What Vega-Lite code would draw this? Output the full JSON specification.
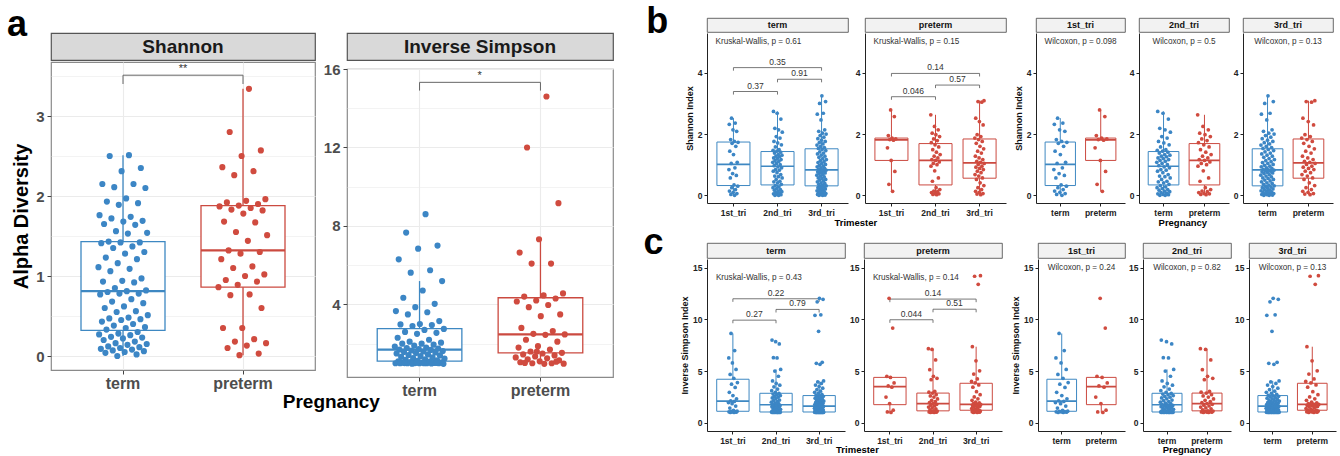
{
"$schema": "https://vega.github.io/schema/vega-lite/v6.json",
"padding": {"left": 7, "top": 3, "right": 2, "bottom": 2},
"config": {
  "font": "Liberation Sans",
  "view": {"stroke": null},
  "axis": {"labelFont": "Liberation Sans", "titleFont": "Liberation Sans", "labelFontSize": 8.5, "labelFontWeight": "bold", "labelColor": "#222", "tickSize": 3, "tickColor": "#222", "domainColor": "#222", "domainWidth": 1, "labelPadding": 2, "titleFontSize": 9, "titleFontWeight": "bold", "titleColor": "#111", "titlePadding": 3, "grid": false, "labelOverlap": false},
  "title": {"font": "Liberation Sans", "color": "#000"},
  "text": {"font": "Liberation Sans"}
},
"datasets": {
  "apts": [
    {"m":"S","g":"term","v":2.51},{"m":"S","g":"term","v":2.50},{"m":"S","g":"term","v":2.35},{"m":"S","g":"term","v":2.31},{"m":"S","g":"term","v":2.15},{"m":"S","g":"term","v":2.15},{"m":"S","g":"term","v":2.11},{"m":"S","g":"term","v":2.1},{"m":"S","g":"term","v":1.97},{"m":"S","g":"term","v":1.93},
    {"m":"S","g":"term","v":1.91},{"m":"S","g":"term","v":1.89},{"m":"S","g":"term","v":1.76},{"m":"S","g":"term","v":1.74},{"m":"S","g":"term","v":1.72},{"m":"S","g":"term","v":1.69},{"m":"S","g":"term","v":1.68},{"m":"S","g":"term","v":1.65},{"m":"S","g":"term","v":1.64},{"m":"S","g":"term","v":1.56},
    {"m":"S","g":"term","v":1.54},{"m":"S","g":"term","v":1.53},{"m":"S","g":"term","v":1.43},{"m":"S","g":"term","v":1.42},{"m":"S","g":"term","v":1.42},{"m":"S","g":"term","v":1.41},{"m":"S","g":"term","v":1.37},{"m":"S","g":"term","v":1.35},{"m":"S","g":"term","v":1.30},{"m":"S","g":"term","v":1.28},
    {"m":"S","g":"term","v":1.23},{"m":"S","g":"term","v":1.21},{"m":"S","g":"term","v":1.16},{"m":"S","g":"term","v":1.11},{"m":"S","g":"term","v":1.09},{"m":"S","g":"term","v":1.06},{"m":"S","g":"term","v":0.97},{"m":"S","g":"term","v":0.94},{"m":"S","g":"term","v":0.93},{"m":"S","g":"term","v":0.92},
    {"m":"S","g":"term","v":0.85},{"m":"S","g":"term","v":0.82},{"m":"S","g":"term","v":0.81},{"m":"S","g":"term","v":0.80},{"m":"S","g":"term","v":0.78},{"m":"S","g":"term","v":0.78},{"m":"S","g":"term","v":0.77},{"m":"S","g":"term","v":0.71},{"m":"S","g":"term","v":0.68},{"m":"S","g":"term","v":0.66},
    {"m":"S","g":"term","v":0.62},{"m":"S","g":"term","v":0.60},{"m":"S","g":"term","v":0.56},{"m":"S","g":"term","v":0.55},{"m":"S","g":"term","v":0.51},{"m":"S","g":"term","v":0.48},{"m":"S","g":"term","v":0.47},{"m":"S","g":"term","v":0.46},{"m":"S","g":"term","v":0.45},{"m":"S","g":"term","v":0.43},
    {"m":"S","g":"term","v":0.40},{"m":"S","g":"term","v":0.38},{"m":"S","g":"term","v":0.36},{"m":"S","g":"term","v":0.35},{"m":"S","g":"term","v":0.33},{"m":"S","g":"term","v":0.30},{"m":"S","g":"term","v":0.28},{"m":"S","g":"term","v":0.27},{"m":"S","g":"term","v":0.26},{"m":"S","g":"term","v":0.24},
    {"m":"S","g":"term","v":0.23},{"m":"S","g":"term","v":0.22},{"m":"S","g":"term","v":0.20},{"m":"S","g":"term","v":0.18},{"m":"S","g":"term","v":0.16},{"m":"S","g":"term","v":0.15},{"m":"S","g":"term","v":0.14},{"m":"S","g":"term","v":0.12},{"m":"S","g":"term","v":0.11},{"m":"S","g":"term","v":0.10},
    {"m":"S","g":"term","v":0.09},{"m":"S","g":"term","v":0.08},{"m":"S","g":"term","v":0.07},{"m":"S","g":"term","v":0.06},{"m":"S","g":"term","v":0.05},{"m":"S","g":"term","v":0.04},{"m":"S","g":"term","v":0.02},{"m":"S","g":"term","v":0.0},
    {"m":"S","g":"preterm","v":3.34},{"m":"S","g":"preterm","v":2.80},{"m":"S","g":"preterm","v":2.57},{"m":"S","g":"preterm","v":2.50},{"m":"S","g":"preterm","v":2.36},{"m":"S","g":"preterm","v":2.31},{"m":"S","g":"preterm","v":2.26},{"m":"S","g":"preterm","v":1.96},{"m":"S","g":"preterm","v":1.94},{"m":"S","g":"preterm","v":1.92},
    {"m":"S","g":"preterm","v":1.90},{"m":"S","g":"preterm","v":1.88},{"m":"S","g":"preterm","v":1.87},{"m":"S","g":"preterm","v":1.85},{"m":"S","g":"preterm","v":1.83},{"m":"S","g":"preterm","v":1.82},{"m":"S","g":"preterm","v":1.78},{"m":"S","g":"preterm","v":1.68},{"m":"S","g":"preterm","v":1.67},{"m":"S","g":"preterm","v":1.55},
    {"m":"S","g":"preterm","v":1.51},{"m":"S","g":"preterm","v":1.44},{"m":"S","g":"preterm","v":1.32},{"m":"S","g":"preterm","v":1.30},{"m":"S","g":"preterm","v":1.28},{"m":"S","g":"preterm","v":1.21},{"m":"S","g":"preterm","v":1.12},{"m":"S","g":"preterm","v":1.10},{"m":"S","g":"preterm","v":1.02},{"m":"S","g":"preterm","v":1.00},
    {"m":"S","g":"preterm","v":0.95},{"m":"S","g":"preterm","v":0.93},{"m":"S","g":"preterm","v":0.89},{"m":"S","g":"preterm","v":0.86},{"m":"S","g":"preterm","v":0.77},{"m":"S","g":"preterm","v":0.76},{"m":"S","g":"preterm","v":0.60},{"m":"S","g":"preterm","v":0.35},{"m":"S","g":"preterm","v":0.35},{"m":"S","g":"preterm","v":0.21},
    {"m":"S","g":"preterm","v":0.18},{"m":"S","g":"preterm","v":0.16},{"m":"S","g":"preterm","v":0.13},{"m":"S","g":"preterm","v":0.10},{"m":"S","g":"preterm","v":0.03},{"m":"S","g":"preterm","v":0.01},
    {"m":"I","g":"term","v":8.6},{"m":"I","g":"term","v":7.66},{"m":"I","g":"term","v":7.0},{"m":"I","g":"term","v":6.84},{"m":"I","g":"term","v":6.3},{"m":"I","g":"term","v":5.74},{"m":"I","g":"term","v":5.62},{"m":"I","g":"term","v":5.19},{"m":"I","g":"term","v":4.71},{"m":"I","g":"term","v":4.34},
    {"m":"I","g":"term","v":4.03},{"m":"I","g":"term","v":3.86},{"m":"I","g":"term","v":3.66},{"m":"I","g":"term","v":3.6},{"m":"I","g":"term","v":3.49},{"m":"I","g":"term","v":3.15},{"m":"I","g":"term","v":3.0},{"m":"I","g":"term","v":2.98},{"m":"I","g":"term","v":2.95},{"m":"I","g":"term","v":2.9},
    {"m":"I","g":"term","v":2.75},{"m":"I","g":"term","v":2.7},{"m":"I","g":"term","v":2.6},{"m":"I","g":"term","v":2.55},{"m":"I","g":"term","v":2.5},{"m":"I","g":"term","v":2.3},{"m":"I","g":"term","v":2.2},{"m":"I","g":"term","v":2.1},{"m":"I","g":"term","v":2.05},{"m":"I","g":"term","v":2.0},
    {"m":"I","g":"term","v":2.0},{"m":"I","g":"term","v":1.95},{"m":"I","g":"term","v":1.9},{"m":"I","g":"term","v":1.85},{"m":"I","g":"term","v":1.8},{"m":"I","g":"term","v":1.78},{"m":"I","g":"term","v":1.75},{"m":"I","g":"term","v":1.72},{"m":"I","g":"term","v":1.7},{"m":"I","g":"term","v":1.68},
    {"m":"I","g":"term","v":1.65},{"m":"I","g":"term","v":1.62},{"m":"I","g":"term","v":1.6},{"m":"I","g":"term","v":1.58},{"m":"I","g":"term","v":1.55},{"m":"I","g":"term","v":1.52},{"m":"I","g":"term","v":1.5},{"m":"I","g":"term","v":1.45},{"m":"I","g":"term","v":1.42},{"m":"I","g":"term","v":1.4},
    {"m":"I","g":"term","v":1.36},{"m":"I","g":"term","v":1.33},{"m":"I","g":"term","v":1.3},{"m":"I","g":"term","v":1.27},{"m":"I","g":"term","v":1.24},{"m":"I","g":"term","v":1.2},{"m":"I","g":"term","v":1.18},{"m":"I","g":"term","v":1.15},{"m":"I","g":"term","v":1.12},{"m":"I","g":"term","v":1.1},
    {"m":"I","g":"term","v":1.08},{"m":"I","g":"term","v":1.06},{"m":"I","g":"term","v":1.05},{"m":"I","g":"term","v":1.04},{"m":"I","g":"term","v":1.03},{"m":"I","g":"term","v":1.02},{"m":"I","g":"term","v":1.01},{"m":"I","g":"term","v":1.0},{"m":"I","g":"term","v":1.0},{"m":"I","g":"term","v":1.0},
    {"m":"I","g":"term","v":1.0},{"m":"I","g":"term","v":1.0},{"m":"I","g":"term","v":1.0},{"m":"I","g":"term","v":0.99},{"m":"I","g":"term","v":0.98},{"m":"I","g":"term","v":0.97},{"m":"I","g":"term","v":1.0},{"m":"I","g":"term","v":1.01},{"m":"I","g":"term","v":1.02},{"m":"I","g":"term","v":1.03},
    {"m":"I","g":"preterm","v":14.6},{"m":"I","g":"preterm","v":12.0},{"m":"I","g":"preterm","v":9.16},{"m":"I","g":"preterm","v":7.32},{"m":"I","g":"preterm","v":6.64},{"m":"I","g":"preterm","v":6.08},{"m":"I","g":"preterm","v":6.08},{"m":"I","g":"preterm","v":4.56},{"m":"I","g":"preterm","v":4.46},{"m":"I","g":"preterm","v":4.4},
    {"m":"I","g":"preterm","v":4.3},{"m":"I","g":"preterm","v":4.2},{"m":"I","g":"preterm","v":4.15},{"m":"I","g":"preterm","v":3.97},{"m":"I","g":"preterm","v":3.86},{"m":"I","g":"preterm","v":3.49},{"m":"I","g":"preterm","v":3.4},{"m":"I","g":"preterm","v":2.8},{"m":"I","g":"preterm","v":2.64},{"m":"I","g":"preterm","v":2.5},
    {"m":"I","g":"preterm","v":2.47},{"m":"I","g":"preterm","v":2.45},{"m":"I","g":"preterm","v":2.2},{"m":"I","g":"preterm","v":2.1},{"m":"I","g":"preterm","v":1.87},{"m":"I","g":"preterm","v":1.8},{"m":"I","g":"preterm","v":1.7},{"m":"I","g":"preterm","v":1.6},{"m":"I","g":"preterm","v":1.53},{"m":"I","g":"preterm","v":1.5},
    {"m":"I","g":"preterm","v":1.45},{"m":"I","g":"preterm","v":1.4},{"m":"I","g":"preterm","v":1.35},{"m":"I","g":"preterm","v":1.3},{"m":"I","g":"preterm","v":1.25},{"m":"I","g":"preterm","v":1.2},{"m":"I","g":"preterm","v":1.15},{"m":"I","g":"preterm","v":1.1},{"m":"I","g":"preterm","v":1.05},{"m":"I","g":"preterm","v":1.0},
    {"m":"I","g":"preterm","v":1.0},{"m":"I","g":"preterm","v":0.98},{"m":"I","g":"preterm","v":0.97},{"m":"I","g":"preterm","v":1.02},{"m":"I","g":"preterm","v":1.08},{"m":"I","g":"preterm","v":1.6}
  ],
  "astat": [
    {"m":"S","g":"term","lo":0,"q1":0.32,"md":0.81,"q3":1.43,"hi":2.51},
    {"m":"S","g":"preterm","lo":0.01,"q1":0.86,"md":1.32,"q3":1.88,"hi":3.34},
    {"m":"I","g":"term","lo":1.0,"q1":1.11,"md":1.70,"q3":2.77,"hi":5.19},
    {"m":"I","g":"preterm","lo":0.97,"q1":1.53,"md":2.47,"q3":4.34,"hi":7.32}
  ],
  "abr": [
    {"m":"S","x1":"term","x2":"preterm","y":3.51,"tip":3.40,"lab":"**"},
    {"m":"I","x1":"term","x2":"preterm","y":15.32,"tip":14.9,"lab":"*"}
  ],
  "s": [
    {"t":"1st_tri","p":"term","sh":0.0,"is":1.0},{"t":"1st_tri","p":"term","sh":0.03,"is":1.0},{"t":"1st_tri","p":"term","sh":0.06,"is":1.02},{"t":"1st_tri","p":"term","sh":0.10,"is":1.04},{"t":"1st_tri","p":"term","sh":0.14,"is":1.06},{"t":"1st_tri","p":"term","sh":0.19,"is":1.08},{"t":"1st_tri","p":"term","sh":0.25,"is":1.1},
    {"t":"1st_tri","p":"term","sh":0.30,"is":1.12},{"t":"1st_tri","p":"term","sh":0.34,"is":1.2},{"t":"1st_tri","p":"term","sh":0.57,"is":1.42},{"t":"1st_tri","p":"term","sh":0.65,"is":1.61},{"t":"1st_tri","p":"term","sh":0.71,"is":1.84},{"t":"1st_tri","p":"term","sh":0.84,"is":1.95},{"t":"1st_tri","p":"term","sh":0.90,"is":2.06},
    {"t":"1st_tri","p":"term","sh":1.04,"is":2.12},{"t":"1st_tri","p":"term","sh":1.08,"is":2.31},{"t":"1st_tri","p":"term","sh":1.33,"is":2.63},{"t":"1st_tri","p":"term","sh":1.44,"is":2.94},{"t":"1st_tri","p":"term","sh":1.60,"is":3.42},{"t":"1st_tri","p":"term","sh":1.70,"is":3.73},{"t":"1st_tri","p":"term","sh":1.73,"is":3.89},
    {"t":"1st_tri","p":"term","sh":1.76,"is":4.3},{"t":"1st_tri","p":"term","sh":1.82,"is":4.68},{"t":"1st_tri","p":"term","sh":2.09,"is":5.16},{"t":"1st_tri","p":"term","sh":2.14,"is":5.79},{"t":"1st_tri","p":"term","sh":2.32,"is":6.27},{"t":"1st_tri","p":"term","sh":2.36,"is":6.99},{"t":"1st_tri","p":"term","sh":2.52,"is":8.64},
    {"t":"2nd_tri","p":"term","sh":0,"is":1.0},{"t":"2nd_tri","p":"term","sh":0,"is":1.0},{"t":"2nd_tri","p":"term","sh":0.02,"is":1.0},{"t":"2nd_tri","p":"term","sh":0.03,"is":1.0},{"t":"2nd_tri","p":"term","sh":0.05,"is":1.0},{"t":"2nd_tri","p":"term","sh":0.07,"is":1.0},{"t":"2nd_tri","p":"term","sh":0.09,"is":1.01},{"t":"2nd_tri","p":"term","sh":0.12,"is":1.01},{"t":"2nd_tri","p":"term","sh":0.14,"is":1.02},{"t":"2nd_tri","p":"term","sh":0.17,"is":1.02},
    {"t":"2nd_tri","p":"term","sh":0.19,"is":1.03},{"t":"2nd_tri","p":"term","sh":0.22,"is":1.03},{"t":"2nd_tri","p":"term","sh":0.25,"is":1.04},{"t":"2nd_tri","p":"term","sh":0.28,"is":1.04},{"t":"2nd_tri","p":"term","sh":0.32,"is":1.04},{"t":"2nd_tri","p":"term","sh":0.36,"is":1.06},{"t":"2nd_tri","p":"term","sh":0.41,"is":1.1},{"t":"2nd_tri","p":"term","sh":0.44,"is":1.15},{"t":"2nd_tri","p":"term","sh":0.46,"is":1.2},{"t":"2nd_tri","p":"term","sh":0.52,"is":1.25},
    {"t":"2nd_tri","p":"term","sh":0.57,"is":1.3},{"t":"2nd_tri","p":"term","sh":0.61,"is":1.36},{"t":"2nd_tri","p":"term","sh":0.63,"is":1.4},{"t":"2nd_tri","p":"term","sh":0.68,"is":1.45},{"t":"2nd_tri","p":"term","sh":0.74,"is":1.5},{"t":"2nd_tri","p":"term","sh":0.79,"is":1.55},{"t":"2nd_tri","p":"term","sh":0.82,"is":1.6},{"t":"2nd_tri","p":"term","sh":0.84,"is":1.64},{"t":"2nd_tri","p":"term","sh":0.9,"is":1.68},{"t":"2nd_tri","p":"term","sh":0.93,"is":1.72},
    {"t":"2nd_tri","p":"term","sh":0.97,"is":1.76},{"t":"2nd_tri","p":"term","sh":1.0,"is":1.84},{"t":"2nd_tri","p":"term","sh":1.04,"is":1.9},{"t":"2nd_tri","p":"term","sh":1.08,"is":1.99},{"t":"2nd_tri","p":"term","sh":1.11,"is":2.05},{"t":"2nd_tri","p":"term","sh":1.14,"is":2.15},{"t":"2nd_tri","p":"term","sh":1.17,"is":2.2},{"t":"2nd_tri","p":"term","sh":1.2,"is":2.31},{"t":"2nd_tri","p":"term","sh":1.22,"is":2.4},{"t":"2nd_tri","p":"term","sh":1.26,"is":2.47},
    {"t":"2nd_tri","p":"term","sh":1.28,"is":2.55},{"t":"2nd_tri","p":"term","sh":1.31,"is":2.63},{"t":"2nd_tri","p":"term","sh":1.33,"is":2.7},{"t":"2nd_tri","p":"term","sh":1.38,"is":2.78},{"t":"2nd_tri","p":"term","sh":1.41,"is":2.84},{"t":"2nd_tri","p":"term","sh":1.44,"is":2.94},{"t":"2nd_tri","p":"term","sh":1.47,"is":3.1},{"t":"2nd_tri","p":"term","sh":1.49,"is":3.26},{"t":"2nd_tri","p":"term","sh":1.58,"is":3.48},{"t":"2nd_tri","p":"term","sh":1.65,"is":3.64},
    {"t":"2nd_tri","p":"term","sh":1.71,"is":3.8},{"t":"2nd_tri","p":"term","sh":1.76,"is":4.05},{"t":"2nd_tri","p":"term","sh":1.87,"is":4.5},{"t":"2nd_tri","p":"term","sh":1.92,"is":5.0},{"t":"2nd_tri","p":"term","sh":2.06,"is":5.16},{"t":"2nd_tri","p":"term","sh":2.14,"is":6.27},{"t":"2nd_tri","p":"term","sh":2.19,"is":6.3},{"t":"2nd_tri","p":"term","sh":2.49,"is":7.63},{"t":"2nd_tri","p":"term","sh":2.68,"is":7.85},{"t":"2nd_tri","p":"term","sh":2.74,"is":8.0},
    {"t":"3rd_tri","p":"term","sh":0,"is":1.0},{"t":"3rd_tri","p":"term","sh":0,"is":1.0},{"t":"3rd_tri","p":"term","sh":0.01,"is":1.0},{"t":"3rd_tri","p":"term","sh":0.02,"is":1.0},{"t":"3rd_tri","p":"term","sh":0.03,"is":1.0},{"t":"3rd_tri","p":"term","sh":0.04,"is":1.0},{"t":"3rd_tri","p":"term","sh":0.05,"is":1.0},
    {"t":"3rd_tri","p":"term","sh":0.06,"is":1.0},{"t":"3rd_tri","p":"term","sh":0.08,"is":1.01},{"t":"3rd_tri","p":"term","sh":0.09,"is":1.01},{"t":"3rd_tri","p":"term","sh":0.11,"is":1.01},{"t":"3rd_tri","p":"term","sh":0.13,"is":1.01},{"t":"3rd_tri","p":"term","sh":0.15,"is":1.02},{"t":"3rd_tri","p":"term","sh":0.17,"is":1.02},
    {"t":"3rd_tri","p":"term","sh":0.19,"is":1.02},{"t":"3rd_tri","p":"term","sh":0.21,"is":1.03},{"t":"3rd_tri","p":"term","sh":0.23,"is":1.03},{"t":"3rd_tri","p":"term","sh":0.25,"is":1.03},{"t":"3rd_tri","p":"term","sh":0.27,"is":1.04},{"t":"3rd_tri","p":"term","sh":0.29,"is":1.04},{"t":"3rd_tri","p":"term","sh":0.31,"is":1.04},
    {"t":"3rd_tri","p":"term","sh":0.33,"is":1.06},{"t":"3rd_tri","p":"term","sh":0.36,"is":1.08},{"t":"3rd_tri","p":"term","sh":0.39,"is":1.1},{"t":"3rd_tri","p":"term","sh":0.41,"is":1.13},{"t":"3rd_tri","p":"term","sh":0.44,"is":1.16},{"t":"3rd_tri","p":"term","sh":0.47,"is":1.19},{"t":"3rd_tri","p":"term","sh":0.5,"is":1.22},
    {"t":"3rd_tri","p":"term","sh":0.52,"is":1.25},{"t":"3rd_tri","p":"term","sh":0.55,"is":1.28},{"t":"3rd_tri","p":"term","sh":0.57,"is":1.31},{"t":"3rd_tri","p":"term","sh":0.6,"is":1.34},{"t":"3rd_tri","p":"term","sh":0.63,"is":1.37},{"t":"3rd_tri","p":"term","sh":0.66,"is":1.4},{"t":"3rd_tri","p":"term","sh":0.68,"is":1.43},
    {"t":"3rd_tri","p":"term","sh":0.71,"is":1.46},{"t":"3rd_tri","p":"term","sh":0.73,"is":1.49},{"t":"3rd_tri","p":"term","sh":0.75,"is":1.51},{"t":"3rd_tri","p":"term","sh":0.77,"is":1.53},{"t":"3rd_tri","p":"term","sh":0.79,"is":1.55},{"t":"3rd_tri","p":"term","sh":0.81,"is":1.57},{"t":"3rd_tri","p":"term","sh":0.82,"is":1.59},
    {"t":"3rd_tri","p":"term","sh":0.83,"is":1.61},
    {"t":"3rd_tri","p":"term","sh":0.85,"is":1.64},{"t":"3rd_tri","p":"term","sh":0.88,"is":1.68},{"t":"3rd_tri","p":"term","sh":0.9,"is":1.72},{"t":"3rd_tri","p":"term","sh":0.93,"is":1.76},{"t":"3rd_tri","p":"term","sh":0.95,"is":1.8},{"t":"3rd_tri","p":"term","sh":0.98,"is":1.84},{"t":"3rd_tri","p":"term","sh":1.01,"is":1.88},
    {"t":"3rd_tri","p":"term","sh":1.04,"is":1.92},{"t":"3rd_tri","p":"term","sh":1.07,"is":1.96},{"t":"3rd_tri","p":"term","sh":1.1,"is":2.0},{"t":"3rd_tri","p":"term","sh":1.13,"is":2.05},{"t":"3rd_tri","p":"term","sh":1.17,"is":2.1},{"t":"3rd_tri","p":"term","sh":1.2,"is":2.15},{"t":"3rd_tri","p":"term","sh":1.24,"is":2.2},
    {"t":"3rd_tri","p":"term","sh":1.28,"is":2.26},{"t":"3rd_tri","p":"term","sh":1.31,"is":2.32},{"t":"3rd_tri","p":"term","sh":1.35,"is":2.38},{"t":"3rd_tri","p":"term","sh":1.38,"is":2.44},{"t":"3rd_tri","p":"term","sh":1.42,"is":2.5},{"t":"3rd_tri","p":"term","sh":1.46,"is":2.56},{"t":"3rd_tri","p":"term","sh":1.5,"is":2.61},
    {"t":"3rd_tri","p":"term","sh":1.53,"is":2.66},{"t":"3rd_tri","p":"term","sh":1.56,"is":2.75},{"t":"3rd_tri","p":"term","sh":1.6,"is":2.85},{"t":"3rd_tri","p":"term","sh":1.64,"is":2.95},{"t":"3rd_tri","p":"term","sh":1.68,"is":3.05},{"t":"3rd_tri","p":"term","sh":1.72,"is":3.2},{"t":"3rd_tri","p":"term","sh":1.76,"is":3.35},
    {"t":"3rd_tri","p":"term","sh":1.8,"is":3.5},{"t":"3rd_tri","p":"term","sh":1.85,"is":3.65},{"t":"3rd_tri","p":"term","sh":1.9,"is":3.8},{"t":"3rd_tri","p":"term","sh":1.95,"is":3.95},{"t":"3rd_tri","p":"term","sh":2.0,"is":4.05},{"t":"3rd_tri","p":"term","sh":2.03,"is":5.65},{"t":"3rd_tri","p":"term","sh":2.09,"is":5.75},
    {"t":"3rd_tri","p":"term","sh":2.14,"is":5.85},{"t":"3rd_tri","p":"term","sh":2.46,"is":8.85},{"t":"3rd_tri","p":"term","sh":2.65,"is":10.4},{"t":"3rd_tri","p":"term","sh":2.68,"is":10.45},{"t":"3rd_tri","p":"term","sh":3.0,"is":11.7},{"t":"3rd_tri","p":"term","sh":3.06,"is":11.95},{"t":"3rd_tri","p":"term","sh":3.25,"is":12.05},
    {"t":"1st_tri","p":"preterm","sh":0.13,"is":1.0},{"t":"1st_tri","p":"preterm","sh":0.36,"is":1.05},{"t":"1st_tri","p":"preterm","sh":0.78,"is":1.21},{"t":"1st_tri","p":"preterm","sh":1.14,"is":1.85},{"t":"1st_tri","p":"preterm","sh":1.55,"is":2.48},{"t":"1st_tri","p":"preterm","sh":1.80,"is":3.44},
    {"t":"1st_tri","p":"preterm","sh":1.82,"is":3.56},{"t":"1st_tri","p":"preterm","sh":1.84,"is":3.85},{"t":"1st_tri","p":"preterm","sh":1.87,"is":4.39},{"t":"1st_tri","p":"preterm","sh":1.95,"is":4.49},{"t":"1st_tri","p":"preterm","sh":2.57,"is":9.17},{"t":"1st_tri","p":"preterm","sh":2.79,"is":12.04},
    {"t":"2nd_tri","p":"preterm","sh":0.02,"is":1.0},{"t":"2nd_tri","p":"preterm","sh":0.03,"is":1.0},{"t":"2nd_tri","p":"preterm","sh":0.05,"is":1.02},{"t":"2nd_tri","p":"preterm","sh":0.06,"is":1.03},{"t":"2nd_tri","p":"preterm","sh":0.09,"is":1.05},{"t":"2nd_tri","p":"preterm","sh":0.12,"is":1.08},{"t":"2nd_tri","p":"preterm","sh":0.14,"is":1.1},
    {"t":"2nd_tri","p":"preterm","sh":0.19,"is":1.13},{"t":"2nd_tri","p":"preterm","sh":0.25,"is":1.15},{"t":"2nd_tri","p":"preterm","sh":0.46,"is":1.25},{"t":"2nd_tri","p":"preterm","sh":0.57,"is":1.35},{"t":"2nd_tri","p":"preterm","sh":0.8,"is":1.43},{"t":"2nd_tri","p":"preterm","sh":0.95,"is":1.52},{"t":"2nd_tri","p":"preterm","sh":1.0,"is":1.62},
    {"t":"2nd_tri","p":"preterm","sh":1.04,"is":1.7},{"t":"2nd_tri","p":"preterm","sh":1.09,"is":1.78},{"t":"2nd_tri","p":"preterm","sh":1.14,"is":1.85},{"t":"2nd_tri","p":"preterm","sh":1.17,"is":1.94},{"t":"2nd_tri","p":"preterm","sh":1.22,"is":2.05},{"t":"2nd_tri","p":"preterm","sh":1.28,"is":2.17},{"t":"2nd_tri","p":"preterm","sh":1.33,"is":2.3},
    {"t":"2nd_tri","p":"preterm","sh":1.41,"is":2.48},{"t":"2nd_tri","p":"preterm","sh":1.49,"is":2.6},{"t":"2nd_tri","p":"preterm","sh":1.58,"is":2.71},{"t":"2nd_tri","p":"preterm","sh":1.65,"is":2.87},{"t":"2nd_tri","p":"preterm","sh":1.72,"is":2.96},{"t":"2nd_tri","p":"preterm","sh":1.79,"is":3.03},{"t":"2nd_tri","p":"preterm","sh":1.84,"is":4.17},
    {"t":"2nd_tri","p":"preterm","sh":1.92,"is":4.3},{"t":"2nd_tri","p":"preterm","sh":1.98,"is":4.49},{"t":"2nd_tri","p":"preterm","sh":2.03,"is":5.13},{"t":"2nd_tri","p":"preterm","sh":2.14,"is":6.08},{"t":"2nd_tri","p":"preterm","sh":2.25,"is":7.1},{"t":"2nd_tri","p":"preterm","sh":2.63,"is":7.17},
    {"t":"3rd_tri","p":"preterm","sh":0.02,"is":1.0},{"t":"3rd_tri","p":"preterm","sh":0.04,"is":1.0},{"t":"3rd_tri","p":"preterm","sh":0.06,"is":1.02},{"t":"3rd_tri","p":"preterm","sh":0.1,"is":1.04},{"t":"3rd_tri","p":"preterm","sh":0.13,"is":1.06},{"t":"3rd_tri","p":"preterm","sh":0.19,"is":1.08},{"t":"3rd_tri","p":"preterm","sh":0.25,"is":1.1},
    {"t":"3rd_tri","p":"preterm","sh":0.32,"is":1.13},{"t":"3rd_tri","p":"preterm","sh":0.41,"is":1.16},{"t":"3rd_tri","p":"preterm","sh":0.52,"is":1.19},{"t":"3rd_tri","p":"preterm","sh":0.57,"is":1.23},{"t":"3rd_tri","p":"preterm","sh":0.63,"is":1.3},{"t":"3rd_tri","p":"preterm","sh":0.68,"is":1.37},{"t":"3rd_tri","p":"preterm","sh":0.74,"is":1.45},
    {"t":"3rd_tri","p":"preterm","sh":0.79,"is":1.52},{"t":"3rd_tri","p":"preterm","sh":0.84,"is":1.58},{"t":"3rd_tri","p":"preterm","sh":0.88,"is":1.63},{"t":"3rd_tri","p":"preterm","sh":0.92,"is":1.67},{"t":"3rd_tri","p":"preterm","sh":0.95,"is":1.7},{"t":"3rd_tri","p":"preterm","sh":1.01,"is":1.74},{"t":"3rd_tri","p":"preterm","sh":1.04,"is":1.77},
    {"t":"3rd_tri","p":"preterm","sh":1.08,"is":1.8},{"t":"3rd_tri","p":"preterm","sh":1.11,"is":1.85},{"t":"3rd_tri","p":"preterm","sh":1.17,"is":1.92},{"t":"3rd_tri","p":"preterm","sh":1.22,"is":2.0},{"t":"3rd_tri","p":"preterm","sh":1.28,"is":2.17},{"t":"3rd_tri","p":"preterm","sh":1.38,"is":2.32},{"t":"3rd_tri","p":"preterm","sh":1.44,"is":2.5},
    {"t":"3rd_tri","p":"preterm","sh":1.52,"is":2.71},{"t":"3rd_tri","p":"preterm","sh":1.6,"is":3.0},{"t":"3rd_tri","p":"preterm","sh":1.7,"is":3.44},{"t":"3rd_tri","p":"preterm","sh":1.76,"is":3.66},{"t":"3rd_tri","p":"preterm","sh":1.82,"is":3.85},{"t":"3rd_tri","p":"preterm","sh":1.87,"is":4.0},{"t":"3rd_tri","p":"preterm","sh":1.92,"is":4.24},
    {"t":"3rd_tri","p":"preterm","sh":1.98,"is":4.71},{"t":"3rd_tri","p":"preterm","sh":2.3,"is":5.03},{"t":"3rd_tri","p":"preterm","sh":2.41,"is":5.99},{"t":"3rd_tri","p":"preterm","sh":2.52,"is":7.36},{"t":"3rd_tri","p":"preterm","sh":3.04,"is":13.4},{"t":"3rd_tri","p":"preterm","sh":3.06,"is":14.18},{"t":"3rd_tri","p":"preterm","sh":3.09,"is":14.24}
  ],
  "ss": [
    {"t":"1st_tri","p":"term","m":"sh","lo":0,"q1":0.32,"md":1.01,"q3":1.74,"hi":2.52},
    {"t":"2nd_tri","p":"term","m":"sh","lo":0,"q1":0.34,"md":0.95,"q3":1.43,"hi":2.74},
    {"t":"3rd_tri","p":"term","m":"sh","lo":0,"q1":0.31,"md":0.83,"q3":1.52,"hi":3.25},
    {"t":"1st_tri","p":"preterm","m":"sh","lo":0.13,"q1":1.14,"md":1.81,"q3":1.87,"hi":2.79},
    {"t":"2nd_tri","p":"preterm","m":"sh","lo":0.02,"q1":0.34,"md":1.14,"q3":1.69,"hi":2.63},
    {"t":"3rd_tri","p":"preterm","m":"sh","lo":0.02,"q1":0.56,"md":1.06,"q3":1.84,"hi":3.09},
    {"t":"1st_tri","p":"term","m":"is","lo":1.0,"q1":1.11,"md":2.09,"q3":4.21,"hi":8.64},
    {"t":"2nd_tri","p":"term","m":"is","lo":1.0,"q1":1.04,"md":1.74,"q3":2.85,"hi":5.16},
    {"t":"3rd_tri","p":"term","m":"is","lo":1.0,"q1":1.04,"md":1.61,"q3":2.63,"hi":4.05},
    {"t":"1st_tri","p":"preterm","m":"is","lo":1.0,"q1":1.75,"md":3.5,"q3":4.39,"hi":4.49},
    {"t":"2nd_tri","p":"preterm","m":"is","lo":1.0,"q1":1.15,"md":1.85,"q3":2.87,"hi":7.17},
    {"t":"3rd_tri","p":"preterm","m":"is","lo":1.0,"q1":1.21,"md":1.78,"q3":3.82,"hi":7.36}
  ],
  "br": [
    {"p":"term","m":"sh","x1":"1st_tri","x2":"3rd_tri","mid":"2nd_tri","y":4.17,"tip":4.07,"lab":"0.35","span":2},
    {"p":"term","m":"sh","x1":"2nd_tri","x2":"3rd_tri","y":3.79,"tip":3.69,"lab":"0.91","span":1},
    {"p":"term","m":"sh","x1":"1st_tri","x2":"2nd_tri","y":3.39,"tip":3.29,"lab":"0.37","span":1},
    {"p":"preterm","m":"sh","x1":"1st_tri","x2":"3rd_tri","mid":"2nd_tri","y":3.98,"tip":3.88,"lab":"0.14","span":2},
    {"p":"preterm","m":"sh","x1":"2nd_tri","x2":"3rd_tri","y":3.60,"tip":3.50,"lab":"0.57","span":1},
    {"p":"preterm","m":"sh","x1":"1st_tri","x2":"2nd_tri","y":3.22,"tip":3.12,"lab":"0.046","span":1},
    {"p":"term","m":"is","x1":"1st_tri","x2":"3rd_tri","mid":"2nd_tri","y":12.0,"tip":11.7,"lab":"0.22","span":2},
    {"p":"term","m":"is","x1":"2nd_tri","x2":"3rd_tri","y":10.97,"tip":10.67,"lab":"0.79","span":1},
    {"p":"term","m":"is","x1":"1st_tri","x2":"2nd_tri","y":9.93,"tip":9.63,"lab":"0.27","span":1},
    {"p":"preterm","m":"is","x1":"1st_tri","x2":"3rd_tri","mid":"2nd_tri","y":11.97,"tip":11.67,"lab":"0.14","span":2},
    {"p":"preterm","m":"is","x1":"2nd_tri","x2":"3rd_tri","y":10.99,"tip":10.69,"lab":"0.51","span":1},
    {"p":"preterm","m":"is","x1":"1st_tri","x2":"2nd_tri","y":9.97,"tip":9.67,"lab":"0.044","span":1}
  ],
  "kw": [
    {"p":"term","m":"sh","t":"1st_tri","y":5,"lab":"Kruskal-Wallis, p = 0.61"},
    {"p":"preterm","m":"sh","t":"1st_tri","y":5,"lab":"Kruskal-Wallis, p = 0.15"},
    {"p":"term","m":"is","t":"1st_tri","y":14,"lab":"Kruskal-Wallis, p = 0.43"},
    {"p":"preterm","m":"is","t":"1st_tri","y":14,"lab":"Kruskal-Wallis, p = 0.14"}
  ],
  "wx": [
    {"t":"1st_tri","m":"sh","y":5,"lab":"Wilcoxon, p = 0.098"},
    {"t":"2nd_tri","m":"sh","y":5,"lab":"Wilcoxon, p = 0.5"},
    {"t":"3rd_tri","m":"sh","y":5,"lab":"Wilcoxon, p = 0.13"},
    {"t":"1st_tri","m":"is","y":15,"lab":"Wilcoxon, p = 0.24"},
    {"t":"2nd_tri","m":"is","y":15,"lab":"Wilcoxon, p = 0.82"},
    {"t":"3rd_tri","m":"is","y":15,"lab":"Wilcoxon, p = 0.13"}
  ]
},
"spacing": 29,
"hconcat": [
 {"spacing": 0,
  "title": {"text": "a", "orient": "top", "anchor": "start", "frame": "bounds", "fontSize": 36, "fontWeight": "bold", "baseline": "alphabetic", "offset": 0, "dx": -4, "dy": 54},
  "vconcat": [
   {"width": 10, "height": 14, "data": {"values": [{"s": ""}]}, "mark": {"type": "text"}, "encoding": {"text": {"field": "s", "type": "nominal"}}},
   {"spacing": 6,
    "title": {"text": "Pregnancy", "orient": "bottom", "anchor": "middle", "frame": "bounds", "fontSize": 19, "fontWeight": "bold", "offset": -6, "dx": 19},
    "hconcat": [
     {"spacing": 0, "vconcat": [
      {"width": 264, "height": 27, "data": {"values": [{"s": "Shannon"}]}, "mark": {"type": "text", "fontSize": 19, "fontWeight": "bold", "color": "#1a1a1a"}, "encoding": {"text": {"field": "s", "type": "nominal"}}, "view": {"fill": "#d9d9d9", "stroke": "#555", "strokeWidth": 1.2}},
      {"width": 264, "height": 308, "view": {"stroke": "#8a8a8a", "strokeWidth": 1.2},
       "resolve": {"scale": {"x": "independent"}},
       "layer": [
        {"layer": [
        {"data": {"name": "astat"}, "transform": [{"filter": "datum.m === 'S'"}], "mark": {"type": "rule", "strokeWidth": 1.3},
         "encoding": {
          "x": {"field": "g", "type": "nominal", "title": null, "scale": {"domain": ["term","preterm"], "paddingInner": 0.3, "paddingOuter": 0.25}, "axis": {"labelAngle": 0, "grid": true, "gridColor": "#ebebeb", "gridWidth": 1.1, "domain": false, "tickColor": "#444", "tickSize": 4, "labelFontSize": 16, "labelColor": "#4d4d4d", "labelFontWeight": "bold", "labelPadding": 1}},
          "y": {"field": "lo", "type": "quantitative", "title": "Alpha Diversity", "scale": {"domain": [-0.175, 3.675], "nice": false, "zero": false}, "axis": {"values": [0,0.5,1,1.5,2,2.5,3,3.5], "labelExpr": "datum.value % 1 === 0 ? format(datum.value, 'd') : ''", "grid": true, "gridColor": "#ebebeb", "gridWidth": {"condition": {"test": "datum.value % 1 !== 0", "value": 0.6}, "value": 1.1}, "tickOpacity": {"condition": {"test": "datum.value % 1 !== 0", "value": 0}, "value": 1}, "domain": false, "tickColor": "#444", "tickSize": 4, "labelFontSize": 15, "labelColor": "#4d4d4d", "labelFontWeight": "bold", "labelPadding": 3, "titleFontSize": 20, "titleColor": "#000", "titleFontWeight": "bold", "titlePadding": 4}},
          "y2": {"field": "hi"},
          "stroke": {"field": "g", "type": "nominal", "scale": {"domain": ["term","preterm"], "range": ["#3E88C2","#CB4A40"]}, "legend": null}}},
        {"data": {"name": "astat"}, "transform": [{"filter": "datum.m === 'S'"}], "mark": {"type": "bar", "fill": "white", "strokeWidth": 1.3},
         "encoding": {"x": {"field": "g", "type": "nominal", "title": null}, "y": {"field": "q1", "type": "quantitative"}, "y2": {"field": "q3"}, "stroke": {"field": "g", "type": "nominal", "legend": null}}},
        {"data": {"name": "astat"}, "transform": [{"filter": "datum.m === 'S'"}], "mark": {"type": "bar", "fill": "white", "strokeWidth": 2.2},
         "encoding": {"x": {"field": "g", "type": "nominal", "title": null}, "y": {"field": "md", "type": "quantitative"}, "y2": {"field": "md"}, "stroke": {"field": "g", "type": "nominal", "legend": null}}},
        {"data": {"name": "abr"}, "transform": [{"filter": "datum.m === 'S'"}], "mark": {"type": "rule", "color": "#666", "strokeWidth": 1},
         "encoding": {"x": {"field": "x1", "type": "nominal", "title": null}, "x2": {"field": "x2"}, "y": {"field": "y", "type": "quantitative"}}},
        {"data": {"name": "abr"}, "transform": [{"filter": "datum.m === 'S'"}, {"fold": ["x1","x2"], "as": ["k","xe"]}], "mark": {"type": "rule", "color": "#666", "strokeWidth": 1},
         "encoding": {"x": {"field": "xe", "type": "nominal", "title": null}, "y": {"field": "y", "type": "quantitative"}, "y2": {"field": "tip"}}},
        {"data": {"name": "abr"}, "transform": [{"filter": "datum.m === 'S'"}], "mark": {"type": "text", "fontSize": 11, "color": "#333", "baseline": "bottom", "dy": -1, "dx": 60},
         "encoding": {"x": {"field": "x1", "type": "nominal", "title": null}, "y": {"field": "y", "type": "quantitative"}, "text": {"field": "lab", "type": "nominal"}}}
        ]},
        {"data": {"name": "apts"}, "transform": [{"filter": "datum.m === 'S'"}, {"window": [{"op": "row_number", "as": "rn"}], "groupby": ["g"]}, {"calculate": "indexof(['term','preterm'], datum.g) + 1 + 0.21 * (((datum.rn * 0.618034) % 1) * 2 - 1)", "as": "xj"}],
         "mark": {"type": "circle", "size": 38, "opacity": 1},
         "encoding": {"x": {"field": "xj", "type": "quantitative", "scale": {"domain": [0.4, 2.6], "nice": false, "zero": false}, "axis": null}, "y": {"field": "v", "type": "quantitative"}, "color": {"field": "g", "type": "nominal", "scale": {"domain": ["term","preterm"], "range": ["#3C86C5","#D04B3F"]}, "legend": null}}}
       ]}
     ]},
     {"spacing": 0, "vconcat": [
      {"width": 266, "height": 27, "data": {"values": [{"s": "Inverse Simpson"}]}, "mark": {"type": "text", "fontSize": 19, "fontWeight": "bold", "color": "#1a1a1a"}, "encoding": {"text": {"field": "s", "type": "nominal"}}, "view": {"fill": "#d9d9d9", "stroke": "#555", "strokeWidth": 1.2}},
      {"width": 266, "height": 308, "view": {"stroke": "#8a8a8a", "strokeWidth": 1.2},
       "resolve": {"scale": {"x": "independent"}},
       "layer": [
        {"layer": [
        {"data": {"name": "astat"}, "transform": [{"filter": "datum.m === 'I'"}], "mark": {"type": "rule", "strokeWidth": 1.3},
         "encoding": {
          "x": {"field": "g", "type": "nominal", "title": null, "scale": {"domain": ["term","preterm"], "paddingInner": 0.3, "paddingOuter": 0.25}, "axis": {"labelAngle": 0, "grid": true, "gridColor": "#ebebeb", "gridWidth": 1.1, "domain": false, "tickColor": "#444", "tickSize": 4, "labelFontSize": 16, "labelColor": "#4d4d4d", "labelFontWeight": "bold", "labelPadding": 1}},
          "y": {"field": "lo", "type": "quantitative", "title": null, "scale": {"domain": [0.3, 16.0], "nice": false, "zero": false}, "axis": {"values": [2,4,6,8,10,12,14,16], "labelExpr": "datum.value % 4 === 0 ? format(datum.value, 'd') : ''", "grid": true, "gridColor": "#ebebeb", "gridWidth": {"condition": {"test": "datum.value % 4 !== 0", "value": 0.6}, "value": 1.1}, "tickOpacity": {"condition": {"test": "datum.value % 4 !== 0", "value": 0}, "value": 1}, "domain": false, "tickColor": "#444", "tickSize": 4, "labelFontSize": 15, "labelColor": "#4d4d4d", "labelFontWeight": "bold", "labelPadding": 3}},
          "y2": {"field": "hi"},
          "stroke": {"field": "g", "type": "nominal", "scale": {"domain": ["term","preterm"], "range": ["#3E88C2","#CB4A40"]}, "legend": null}}},
        {"data": {"name": "astat"}, "transform": [{"filter": "datum.m === 'I'"}], "mark": {"type": "bar", "fill": "white", "strokeWidth": 1.3},
         "encoding": {"x": {"field": "g", "type": "nominal", "title": null}, "y": {"field": "q1", "type": "quantitative"}, "y2": {"field": "q3"}, "stroke": {"field": "g", "type": "nominal", "legend": null}}},
        {"data": {"name": "astat"}, "transform": [{"filter": "datum.m === 'I'"}], "mark": {"type": "bar", "fill": "white", "strokeWidth": 2.2},
         "encoding": {"x": {"field": "g", "type": "nominal", "title": null}, "y": {"field": "md", "type": "quantitative"}, "y2": {"field": "md"}, "stroke": {"field": "g", "type": "nominal", "legend": null}}},
        {"data": {"name": "abr"}, "transform": [{"filter": "datum.m === 'I'"}], "mark": {"type": "rule", "color": "#666", "strokeWidth": 1},
         "encoding": {"x": {"field": "x1", "type": "nominal", "title": null}, "x2": {"field": "x2"}, "y": {"field": "y", "type": "quantitative"}}},
        {"data": {"name": "abr"}, "transform": [{"filter": "datum.m === 'I'"}, {"fold": ["x1","x2"], "as": ["k","xe"]}], "mark": {"type": "rule", "color": "#666", "strokeWidth": 1},
         "encoding": {"x": {"field": "xe", "type": "nominal", "title": null}, "y": {"field": "y", "type": "quantitative"}, "y2": {"field": "tip"}}},
        {"data": {"name": "abr"}, "transform": [{"filter": "datum.m === 'I'"}], "mark": {"type": "text", "fontSize": 11, "color": "#333", "baseline": "bottom", "dy": -1, "dx": 60},
         "encoding": {"x": {"field": "x1", "type": "nominal", "title": null}, "y": {"field": "y", "type": "quantitative"}, "text": {"field": "lab", "type": "nominal"}}}
        ]},
        {"data": {"name": "apts"}, "transform": [{"filter": "datum.m === 'I'"}, {"window": [{"op": "row_number", "as": "rn"}], "groupby": ["g"]}, {"calculate": "indexof(['term','preterm'], datum.g) + 1 + 0.21 * (((datum.rn * 0.618034) % 1) * 2 - 1)", "as": "xj"}],
         "mark": {"type": "circle", "size": 38, "opacity": 1},
         "encoding": {"x": {"field": "xj", "type": "quantitative", "scale": {"domain": [0.4, 2.6], "nice": false, "zero": false}, "axis": null}, "y": {"field": "v", "type": "quantitative"}, "color": {"field": "g", "type": "nominal", "scale": {"domain": ["term","preterm"], "range": ["#3C86C5","#D04B3F"]}, "legend": null}}}
       ]}
     ]}
    ]}
  ]},
 {"spacing": -3, "vconcat": [
  {"spacing": 7,
   "title": {"text": "b", "orient": "top", "anchor": "start", "frame": "bounds", "fontSize": 36, "fontWeight": "bold", "baseline": "alphabetic", "offset": 0, "dx": -39, "dy": 51},
   "hconcat": [
    {"spacing": 6,
     "title": {"text": "Trimester", "orient": "bottom", "anchor": "middle", "frame": "bounds", "fontSize": 9.5, "fontWeight": "bold", "offset": 1, "dx": 10},
     "hconcat": [
      {"spacing": 0, "vconcat": [
       {"width": 141, "height": 14, "data": {"values": [{"s": "term"}]}, "mark": {"type": "text", "fontSize": 9, "fontWeight": "bold", "color": "#111"}, "encoding": {"text": {"field": "s", "type": "nominal"}}, "view": {"fill": "#f2f2f2", "stroke": "#444", "strokeWidth": 0.8}},
       {"width": 141, "height": 170, "resolve": {"scale": {"x": "independent"}}, "layer": [
        {"layer": [
        {"data": {"name": "ss"}, "transform": [{"filter": "datum.p === 'term' && datum.m === 'sh'"}], "mark": {"type": "rule", "strokeWidth": 1},
         "encoding": {"x": {"field": "t", "type": "nominal", "title": null, "scale": {"domain": ["1st_tri","2nd_tri","3rd_tri"], "paddingInner": 0.25, "paddingOuter": 0.225}, "axis": {"labelAngle": 0}},
          "y": {"field": "lo", "type": "quantitative", "title": "Shannon Index", "scale": {"domain": [-0.25, 5.3], "nice": false, "zero": false}, "axis": {"values": [0,1,2,3,4,5], "format": "d"}},
          "y2": {"field": "hi"},
          "stroke": {"field": "p", "type": "nominal", "scale": {"domain": ["term","preterm"], "range": ["#78B4DF","#EE8F87"]}, "legend": null}}},
        {"data": {"name": "ss"}, "transform": [{"filter": "datum.p === 'term' && datum.m === 'sh'"}], "mark": {"type": "bar", "fill": "white", "strokeWidth": 1},
         "encoding": {"x": {"field": "t", "type": "nominal", "title": null}, "y": {"field": "q1", "type": "quantitative"}, "y2": {"field": "q3"}, "stroke": {"field": "p", "type": "nominal", "legend": null}}},
        {"data": {"name": "ss"}, "transform": [{"filter": "datum.p === 'term' && datum.m === 'sh'"}], "mark": {"type": "bar", "fill": "white", "strokeWidth": 1.6},
         "encoding": {"x": {"field": "t", "type": "nominal", "title": null}, "y": {"field": "md", "type": "quantitative"}, "y2": {"field": "md"}, "stroke": {"field": "p", "type": "nominal", "legend": null}}},
        {"data": {"name": "br"}, "transform": [{"filter": "datum.p === 'term' && datum.m === 'sh'"}], "mark": {"type": "rule", "color": "#555", "strokeWidth": 0.8},
         "encoding": {"x": {"field": "x1", "type": "nominal", "title": null}, "x2": {"field": "x2"}, "y": {"field": "y", "type": "quantitative"}}},
        {"data": {"name": "br"}, "transform": [{"filter": "datum.p === 'term' && datum.m === 'sh'"}, {"fold": ["x1","x2"], "as": ["k","xe"]}], "mark": {"type": "rule", "color": "#555", "strokeWidth": 0.8},
         "encoding": {"x": {"field": "xe", "type": "nominal", "title": null}, "y": {"field": "y", "type": "quantitative"}, "y2": {"field": "tip"}}},
        {"data": {"name": "br"}, "transform": [{"filter": "datum.p === 'term' && datum.m === 'sh' && datum.span === 1"}], "mark": {"type": "text", "fontSize": 8.5, "color": "#333", "baseline": "bottom", "dy": -1, "dx": 22},
         "encoding": {"x": {"field": "x1", "type": "nominal", "title": null}, "y": {"field": "y", "type": "quantitative"}, "text": {"field": "lab", "type": "nominal"}}},
        {"data": {"name": "br"}, "transform": [{"filter": "datum.p === 'term' && datum.m === 'sh' && datum.span === 2"}], "mark": {"type": "text", "fontSize": 8.5, "color": "#333", "baseline": "bottom", "dy": -1},
         "encoding": {"x": {"field": "mid", "type": "nominal", "title": null}, "y": {"field": "y", "type": "quantitative"}, "text": {"field": "lab", "type": "nominal"}}},
        {"data": {"name": "kw"}, "transform": [{"filter": "datum.p === 'term' && datum.m === 'sh'"}], "mark": {"type": "text", "fontSize": 8.2, "color": "#333", "align": "left", "dx": -18},
         "encoding": {"x": {"field": "t", "type": "nominal", "title": null}, "y": {"field": "y", "type": "quantitative"}, "text": {"field": "lab", "type": "nominal"}}}
        ]},
        {"data": {"name": "s"}, "transform": [{"filter": "datum.p === 'term'"}, {"window": [{"op": "row_number", "as": "rn"}], "groupby": ["t"]}, {"calculate": "indexof(['1st_tri','2nd_tri','3rd_tri'], datum.t) + 1 + 0.11 * (((datum.rn * 0.618034) % 1) * 2 - 1)", "as": "xj"}],
         "mark": {"type": "circle", "size": 14, "opacity": 1},
         "encoding": {"x": {"field": "xj", "type": "quantitative", "scale": {"domain": [0.4, 3.6], "nice": false, "zero": false}, "axis": null}, "y": {"field": "sh", "type": "quantitative"}, "color": {"field": "p", "type": "nominal", "scale": {"domain": ["term","preterm"], "range": ["#3B8CC7","#D9534A"]}, "legend": null}}}
       ]}
      ]},
      {"spacing": 0, "vconcat": [
       {"width": 141, "height": 14, "data": {"values": [{"s": "preterm"}]}, "mark": {"type": "text", "fontSize": 9, "fontWeight": "bold", "color": "#111"}, "encoding": {"text": {"field": "s", "type": "nominal"}}, "view": {"fill": "#f2f2f2", "stroke": "#444", "strokeWidth": 0.8}},
       {"width": 141, "height": 170, "resolve": {"scale": {"x": "independent"}}, "layer": [
        {"layer": [
        {"data": {"name": "ss"}, "transform": [{"filter": "datum.p === 'preterm' && datum.m === 'sh'"}], "mark": {"type": "rule", "strokeWidth": 1},
         "encoding": {"x": {"field": "t", "type": "nominal", "title": null, "scale": {"domain": ["1st_tri","2nd_tri","3rd_tri"], "paddingInner": 0.25, "paddingOuter": 0.225}, "axis": {"labelAngle": 0}},
          "y": {"field": "lo", "type": "quantitative", "title": null, "scale": {"domain": [-0.25, 5.3], "nice": false, "zero": false}, "axis": {"values": [0,1,2,3,4,5], "format": "d"}},
          "y2": {"field": "hi"},
          "stroke": {"field": "p", "type": "nominal", "scale": {"domain": ["term","preterm"], "range": ["#78B4DF","#EE8F87"]}, "legend": null}}},
        {"data": {"name": "ss"}, "transform": [{"filter": "datum.p === 'preterm' && datum.m === 'sh'"}], "mark": {"type": "bar", "fill": "white", "strokeWidth": 1},
         "encoding": {"x": {"field": "t", "type": "nominal", "title": null}, "y": {"field": "q1", "type": "quantitative"}, "y2": {"field": "q3"}, "stroke": {"field": "p", "type": "nominal", "legend": null}}},
        {"data": {"name": "ss"}, "transform": [{"filter": "datum.p === 'preterm' && datum.m === 'sh'"}], "mark": {"type": "bar", "fill": "white", "strokeWidth": 1.6},
         "encoding": {"x": {"field": "t", "type": "nominal", "title": null}, "y": {"field": "md", "type": "quantitative"}, "y2": {"field": "md"}, "stroke": {"field": "p", "type": "nominal", "legend": null}}},
        {"data": {"name": "br"}, "transform": [{"filter": "datum.p === 'preterm' && datum.m === 'sh'"}], "mark": {"type": "rule", "color": "#555", "strokeWidth": 0.8},
         "encoding": {"x": {"field": "x1", "type": "nominal", "title": null}, "x2": {"field": "x2"}, "y": {"field": "y", "type": "quantitative"}}},
        {"data": {"name": "br"}, "transform": [{"filter": "datum.p === 'preterm' && datum.m === 'sh'"}, {"fold": ["x1","x2"], "as": ["k","xe"]}], "mark": {"type": "rule", "color": "#555", "strokeWidth": 0.8},
         "encoding": {"x": {"field": "xe", "type": "nominal", "title": null}, "y": {"field": "y", "type": "quantitative"}, "y2": {"field": "tip"}}},
        {"data": {"name": "br"}, "transform": [{"filter": "datum.p === 'preterm' && datum.m === 'sh' && datum.span === 1"}], "mark": {"type": "text", "fontSize": 8.5, "color": "#333", "baseline": "bottom", "dy": -1, "dx": 22},
         "encoding": {"x": {"field": "x1", "type": "nominal", "title": null}, "y": {"field": "y", "type": "quantitative"}, "text": {"field": "lab", "type": "nominal"}}},
        {"data": {"name": "br"}, "transform": [{"filter": "datum.p === 'preterm' && datum.m === 'sh' && datum.span === 2"}], "mark": {"type": "text", "fontSize": 8.5, "color": "#333", "baseline": "bottom", "dy": -1},
         "encoding": {"x": {"field": "mid", "type": "nominal", "title": null}, "y": {"field": "y", "type": "quantitative"}, "text": {"field": "lab", "type": "nominal"}}},
        {"data": {"name": "kw"}, "transform": [{"filter": "datum.p === 'preterm' && datum.m === 'sh'"}], "mark": {"type": "text", "fontSize": 8.2, "color": "#333", "align": "left", "dx": -18},
         "encoding": {"x": {"field": "t", "type": "nominal", "title": null}, "y": {"field": "y", "type": "quantitative"}, "text": {"field": "lab", "type": "nominal"}}}
        ]},
        {"data": {"name": "s"}, "transform": [{"filter": "datum.p === 'preterm'"}, {"window": [{"op": "row_number", "as": "rn"}], "groupby": ["t"]}, {"calculate": "indexof(['1st_tri','2nd_tri','3rd_tri'], datum.t) + 1 + 0.11 * (((datum.rn * 0.618034) % 1) * 2 - 1)", "as": "xj"}],
         "mark": {"type": "circle", "size": 14, "opacity": 1},
         "encoding": {"x": {"field": "xj", "type": "quantitative", "scale": {"domain": [0.4, 3.6], "nice": false, "zero": false}, "axis": null}, "y": {"field": "sh", "type": "quantitative"}, "color": {"field": "p", "type": "nominal", "scale": {"domain": ["term","preterm"], "range": ["#3B8CC7","#D9534A"]}, "legend": null}}}
       ]}
      ]}
     ]},
    {"spacing": 3,
     "title": {"text": "Pregnancy", "orient": "bottom", "anchor": "middle", "frame": "bounds", "fontSize": 9.5, "fontWeight": "bold", "offset": 1, "dx": 9},
     "hconcat": [
      {"spacing": 0, "vconcat": [
       {"width": 89, "height": 14, "data": {"values": [{"s": "1st_tri"}]}, "mark": {"type": "text", "fontSize": 9, "fontWeight": "bold", "color": "#111"}, "encoding": {"text": {"field": "s", "type": "nominal"}}, "view": {"fill": "#f2f2f2", "stroke": "#444", "strokeWidth": 0.8}},
       {"width": 89, "height": 170, "resolve": {"scale": {"x": "independent"}}, "layer": [
        {"layer": [
        {"data": {"name": "ss"}, "transform": [{"filter": "datum.t === '1st_tri' && datum.m === 'sh'"}], "mark": {"type": "rule", "strokeWidth": 1},
         "encoding": {"x": {"field": "p", "type": "nominal", "title": null, "scale": {"domain": ["term","preterm"], "paddingInner": 0.25, "paddingOuter": 0.225}, "axis": {"labelAngle": 0}},
          "y": {"field": "lo", "type": "quantitative", "title": "Shannon Index", "scale": {"domain": [-0.25, 5.3], "nice": false, "zero": false}, "axis": {"values": [0,1,2,3,4,5], "format": "d"}},
          "y2": {"field": "hi"},
          "stroke": {"field": "p", "type": "nominal", "scale": {"domain": ["term","preterm"], "range": ["#78B4DF","#EE8F87"]}, "legend": null}}},
        {"data": {"name": "ss"}, "transform": [{"filter": "datum.t === '1st_tri' && datum.m === 'sh'"}], "mark": {"type": "bar", "fill": "white", "strokeWidth": 1},
         "encoding": {"x": {"field": "p", "type": "nominal", "title": null}, "y": {"field": "q1", "type": "quantitative"}, "y2": {"field": "q3"}, "stroke": {"field": "p", "type": "nominal", "legend": null}}},
        {"data": {"name": "ss"}, "transform": [{"filter": "datum.t === '1st_tri' && datum.m === 'sh'"}], "mark": {"type": "bar", "fill": "white", "strokeWidth": 1.6},
         "encoding": {"x": {"field": "p", "type": "nominal", "title": null}, "y": {"field": "md", "type": "quantitative"}, "y2": {"field": "md"}, "stroke": {"field": "p", "type": "nominal", "legend": null}}},
        {"data": {"name": "wx"}, "transform": [{"filter": "datum.t === '1st_tri' && datum.m === 'sh'"}], "mark": {"type": "text", "fontSize": 8.2, "color": "#333"},
         "encoding": {"y": {"field": "y", "type": "quantitative"}, "text": {"field": "lab", "type": "nominal"}}}
        ]},
        {"data": {"name": "s"}, "transform": [{"filter": "datum.t === '1st_tri'"}, {"window": [{"op": "row_number", "as": "rn"}], "groupby": ["p"]}, {"calculate": "indexof(['term','preterm'], datum.p) + 1 + 0.17 * (((datum.rn * 0.618034) % 1) * 2 - 1)", "as": "xj"}],
         "mark": {"type": "circle", "size": 14, "opacity": 1},
         "encoding": {"x": {"field": "xj", "type": "quantitative", "scale": {"domain": [0.4, 2.6], "nice": false, "zero": false}, "axis": null}, "y": {"field": "sh", "type": "quantitative"}, "color": {"field": "p", "type": "nominal", "scale": {"domain": ["term","preterm"], "range": ["#3B8CC7","#D9534A"]}, "legend": null}}}
       ]}
      ]},
      {"spacing": 0, "vconcat": [
       {"width": 90, "height": 14, "data": {"values": [{"s": "2nd_tri"}]}, "mark": {"type": "text", "fontSize": 9, "fontWeight": "bold", "color": "#111"}, "encoding": {"text": {"field": "s", "type": "nominal"}}, "view": {"fill": "#f2f2f2", "stroke": "#444", "strokeWidth": 0.8}},
       {"width": 90, "height": 170, "resolve": {"scale": {"x": "independent"}}, "layer": [
        {"layer": [
        {"data": {"name": "ss"}, "transform": [{"filter": "datum.t === '2nd_tri' && datum.m === 'sh'"}], "mark": {"type": "rule", "strokeWidth": 1},
         "encoding": {"x": {"field": "p", "type": "nominal", "title": null, "scale": {"domain": ["term","preterm"], "paddingInner": 0.25, "paddingOuter": 0.225}, "axis": {"labelAngle": 0}},
          "y": {"field": "lo", "type": "quantitative", "title": null, "scale": {"domain": [-0.25, 5.3], "nice": false, "zero": false}, "axis": {"values": [0,1,2,3,4,5], "format": "d"}},
          "y2": {"field": "hi"},
          "stroke": {"field": "p", "type": "nominal", "scale": {"domain": ["term","preterm"], "range": ["#78B4DF","#EE8F87"]}, "legend": null}}},
        {"data": {"name": "ss"}, "transform": [{"filter": "datum.t === '2nd_tri' && datum.m === 'sh'"}], "mark": {"type": "bar", "fill": "white", "strokeWidth": 1},
         "encoding": {"x": {"field": "p", "type": "nominal", "title": null}, "y": {"field": "q1", "type": "quantitative"}, "y2": {"field": "q3"}, "stroke": {"field": "p", "type": "nominal", "legend": null}}},
        {"data": {"name": "ss"}, "transform": [{"filter": "datum.t === '2nd_tri' && datum.m === 'sh'"}], "mark": {"type": "bar", "fill": "white", "strokeWidth": 1.6},
         "encoding": {"x": {"field": "p", "type": "nominal", "title": null}, "y": {"field": "md", "type": "quantitative"}, "y2": {"field": "md"}, "stroke": {"field": "p", "type": "nominal", "legend": null}}},
        {"data": {"name": "wx"}, "transform": [{"filter": "datum.t === '2nd_tri' && datum.m === 'sh'"}], "mark": {"type": "text", "fontSize": 8.2, "color": "#333"},
         "encoding": {"y": {"field": "y", "type": "quantitative"}, "text": {"field": "lab", "type": "nominal"}}}
        ]},
        {"data": {"name": "s"}, "transform": [{"filter": "datum.t === '2nd_tri'"}, {"window": [{"op": "row_number", "as": "rn"}], "groupby": ["p"]}, {"calculate": "indexof(['term','preterm'], datum.p) + 1 + 0.17 * (((datum.rn * 0.618034) % 1) * 2 - 1)", "as": "xj"}],
         "mark": {"type": "circle", "size": 14, "opacity": 1},
         "encoding": {"x": {"field": "xj", "type": "quantitative", "scale": {"domain": [0.4, 2.6], "nice": false, "zero": false}, "axis": null}, "y": {"field": "sh", "type": "quantitative"}, "color": {"field": "p", "type": "nominal", "scale": {"domain": ["term","preterm"], "range": ["#3B8CC7","#D9534A"]}, "legend": null}}}
       ]}
      ]},
      {"spacing": 0, "vconcat": [
       {"width": 90, "height": 14, "data": {"values": [{"s": "3rd_tri"}]}, "mark": {"type": "text", "fontSize": 9, "fontWeight": "bold", "color": "#111"}, "encoding": {"text": {"field": "s", "type": "nominal"}}, "view": {"fill": "#f2f2f2", "stroke": "#444", "strokeWidth": 0.8}},
       {"width": 90, "height": 170, "resolve": {"scale": {"x": "independent"}}, "layer": [
        {"layer": [
        {"data": {"name": "ss"}, "transform": [{"filter": "datum.t === '3rd_tri' && datum.m === 'sh'"}], "mark": {"type": "rule", "strokeWidth": 1},
         "encoding": {"x": {"field": "p", "type": "nominal", "title": null, "scale": {"domain": ["term","preterm"], "paddingInner": 0.25, "paddingOuter": 0.225}, "axis": {"labelAngle": 0}},
          "y": {"field": "lo", "type": "quantitative", "title": null, "scale": {"domain": [-0.25, 5.3], "nice": false, "zero": false}, "axis": {"values": [0,1,2,3,4,5], "format": "d"}},
          "y2": {"field": "hi"},
          "stroke": {"field": "p", "type": "nominal", "scale": {"domain": ["term","preterm"], "range": ["#78B4DF","#EE8F87"]}, "legend": null}}},
        {"data": {"name": "ss"}, "transform": [{"filter": "datum.t === '3rd_tri' && datum.m === 'sh'"}], "mark": {"type": "bar", "fill": "white", "strokeWidth": 1},
         "encoding": {"x": {"field": "p", "type": "nominal", "title": null}, "y": {"field": "q1", "type": "quantitative"}, "y2": {"field": "q3"}, "stroke": {"field": "p", "type": "nominal", "legend": null}}},
        {"data": {"name": "ss"}, "transform": [{"filter": "datum.t === '3rd_tri' && datum.m === 'sh'"}], "mark": {"type": "bar", "fill": "white", "strokeWidth": 1.6},
         "encoding": {"x": {"field": "p", "type": "nominal", "title": null}, "y": {"field": "md", "type": "quantitative"}, "y2": {"field": "md"}, "stroke": {"field": "p", "type": "nominal", "legend": null}}},
        {"data": {"name": "wx"}, "transform": [{"filter": "datum.t === '3rd_tri' && datum.m === 'sh'"}], "mark": {"type": "text", "fontSize": 8.2, "color": "#333"},
         "encoding": {"y": {"field": "y", "type": "quantitative"}, "text": {"field": "lab", "type": "nominal"}}}
        ]},
        {"data": {"name": "s"}, "transform": [{"filter": "datum.t === '3rd_tri'"}, {"window": [{"op": "row_number", "as": "rn"}], "groupby": ["p"]}, {"calculate": "indexof(['term','preterm'], datum.p) + 1 + 0.17 * (((datum.rn * 0.618034) % 1) * 2 - 1)", "as": "xj"}],
         "mark": {"type": "circle", "size": 14, "opacity": 1},
         "encoding": {"x": {"field": "xj", "type": "quantitative", "scale": {"domain": [0.4, 2.6], "nice": false, "zero": false}, "axis": null}, "y": {"field": "sh", "type": "quantitative"}, "color": {"field": "p", "type": "nominal", "scale": {"domain": ["term","preterm"], "range": ["#3B8CC7","#D9534A"]}, "legend": null}}}
       ]}
      ]}
     ]}
   ]},
  {"spacing": 8,
   "title": {"text": "c", "orient": "top", "anchor": "start", "frame": "bounds", "fontSize": 36, "fontWeight": "bold", "baseline": "alphabetic", "offset": 0, "dx": -37, "dy": 47},
   "hconcat": [
    {"spacing": 3,
     "title": {"text": "Trimester", "orient": "bottom", "anchor": "middle", "frame": "bounds", "fontSize": 9.5, "fontWeight": "bold", "offset": 0, "dx": 16},
     "hconcat": [
      {"spacing": 0, "vconcat": [
       {"width": 138, "height": 15, "data": {"values": [{"s": "term"}]}, "mark": {"type": "text", "fontSize": 9, "fontWeight": "bold", "color": "#111"}, "encoding": {"text": {"field": "s", "type": "nominal"}}, "view": {"fill": "#f2f2f2", "stroke": "#444", "strokeWidth": 0.8}},
       {"width": 138, "height": 172, "resolve": {"scale": {"x": "independent"}}, "layer": [
        {"layer": [
        {"data": {"name": "ss"}, "transform": [{"filter": "datum.p === 'term' && datum.m === 'is'"}], "mark": {"type": "rule", "strokeWidth": 1},
         "encoding": {"x": {"field": "t", "type": "nominal", "title": null, "scale": {"domain": ["1st_tri","2nd_tri","3rd_tri"], "paddingInner": 0.25, "paddingOuter": 0.225}, "axis": {"labelAngle": 0}},
          "y": {"field": "lo", "type": "quantitative", "title": "Inverse Simpson Index", "scale": {"domain": [-0.8, 15.85], "nice": false, "zero": false}, "axis": {"values": [0,5,10,15], "format": "d"}},
          "y2": {"field": "hi"},
          "stroke": {"field": "p", "type": "nominal", "scale": {"domain": ["term","preterm"], "range": ["#78B4DF","#EE8F87"]}, "legend": null}}},
        {"data": {"name": "ss"}, "transform": [{"filter": "datum.p === 'term' && datum.m === 'is'"}], "mark": {"type": "bar", "fill": "white", "strokeWidth": 1},
         "encoding": {"x": {"field": "t", "type": "nominal", "title": null}, "y": {"field": "q1", "type": "quantitative"}, "y2": {"field": "q3"}, "stroke": {"field": "p", "type": "nominal", "legend": null}}},
        {"data": {"name": "ss"}, "transform": [{"filter": "datum.p === 'term' && datum.m === 'is'"}], "mark": {"type": "bar", "fill": "white", "strokeWidth": 1.6},
         "encoding": {"x": {"field": "t", "type": "nominal", "title": null}, "y": {"field": "md", "type": "quantitative"}, "y2": {"field": "md"}, "stroke": {"field": "p", "type": "nominal", "legend": null}}},
        {"data": {"name": "br"}, "transform": [{"filter": "datum.p === 'term' && datum.m === 'is'"}], "mark": {"type": "rule", "color": "#555", "strokeWidth": 0.8},
         "encoding": {"x": {"field": "x1", "type": "nominal", "title": null}, "x2": {"field": "x2"}, "y": {"field": "y", "type": "quantitative"}}},
        {"data": {"name": "br"}, "transform": [{"filter": "datum.p === 'term' && datum.m === 'is'"}, {"fold": ["x1","x2"], "as": ["k","xe"]}], "mark": {"type": "rule", "color": "#555", "strokeWidth": 0.8},
         "encoding": {"x": {"field": "xe", "type": "nominal", "title": null}, "y": {"field": "y", "type": "quantitative"}, "y2": {"field": "tip"}}},
        {"data": {"name": "br"}, "transform": [{"filter": "datum.p === 'term' && datum.m === 'is' && datum.span === 1"}], "mark": {"type": "text", "fontSize": 8.5, "color": "#333", "baseline": "bottom", "dy": -1, "dx": 21.5},
         "encoding": {"x": {"field": "x1", "type": "nominal", "title": null}, "y": {"field": "y", "type": "quantitative"}, "text": {"field": "lab", "type": "nominal"}}},
        {"data": {"name": "br"}, "transform": [{"filter": "datum.p === 'term' && datum.m === 'is' && datum.span === 2"}], "mark": {"type": "text", "fontSize": 8.5, "color": "#333", "baseline": "bottom", "dy": -1},
         "encoding": {"x": {"field": "mid", "type": "nominal", "title": null}, "y": {"field": "y", "type": "quantitative"}, "text": {"field": "lab", "type": "nominal"}}},
        {"data": {"name": "kw"}, "transform": [{"filter": "datum.p === 'term' && datum.m === 'is'"}], "mark": {"type": "text", "fontSize": 8.2, "color": "#333", "align": "left", "dx": -17},
         "encoding": {"x": {"field": "t", "type": "nominal", "title": null}, "y": {"field": "y", "type": "quantitative"}, "text": {"field": "lab", "type": "nominal"}}}
        ]},
        {"data": {"name": "s"}, "transform": [{"filter": "datum.p === 'term'"}, {"window": [{"op": "row_number", "as": "rn"}], "groupby": ["t"]}, {"calculate": "indexof(['1st_tri','2nd_tri','3rd_tri'], datum.t) + 1 + 0.11 * (((datum.rn * 0.618034) % 1) * 2 - 1)", "as": "xj"}],
         "mark": {"type": "circle", "size": 14, "opacity": 1},
         "encoding": {"x": {"field": "xj", "type": "quantitative", "scale": {"domain": [0.4, 3.6], "nice": false, "zero": false}, "axis": null}, "y": {"field": "is", "type": "quantitative"}, "color": {"field": "p", "type": "nominal", "scale": {"domain": ["term","preterm"], "range": ["#3B8CC7","#D9534A"]}, "legend": null}}}
       ]}
      ]},
      {"spacing": 0, "vconcat": [
       {"width": 138, "height": 15, "data": {"values": [{"s": "preterm"}]}, "mark": {"type": "text", "fontSize": 9, "fontWeight": "bold", "color": "#111"}, "encoding": {"text": {"field": "s", "type": "nominal"}}, "view": {"fill": "#f2f2f2", "stroke": "#444", "strokeWidth": 0.8}},
       {"width": 138, "height": 172, "resolve": {"scale": {"x": "independent"}}, "layer": [
        {"layer": [
        {"data": {"name": "ss"}, "transform": [{"filter": "datum.p === 'preterm' && datum.m === 'is'"}], "mark": {"type": "rule", "strokeWidth": 1},
         "encoding": {"x": {"field": "t", "type": "nominal", "title": null, "scale": {"domain": ["1st_tri","2nd_tri","3rd_tri"], "paddingInner": 0.25, "paddingOuter": 0.225}, "axis": {"labelAngle": 0}},
          "y": {"field": "lo", "type": "quantitative", "title": null, "scale": {"domain": [-0.8, 15.85], "nice": false, "zero": false}, "axis": {"values": [0,5,10,15], "format": "d"}},
          "y2": {"field": "hi"},
          "stroke": {"field": "p", "type": "nominal", "scale": {"domain": ["term","preterm"], "range": ["#78B4DF","#EE8F87"]}, "legend": null}}},
        {"data": {"name": "ss"}, "transform": [{"filter": "datum.p === 'preterm' && datum.m === 'is'"}], "mark": {"type": "bar", "fill": "white", "strokeWidth": 1},
         "encoding": {"x": {"field": "t", "type": "nominal", "title": null}, "y": {"field": "q1", "type": "quantitative"}, "y2": {"field": "q3"}, "stroke": {"field": "p", "type": "nominal", "legend": null}}},
        {"data": {"name": "ss"}, "transform": [{"filter": "datum.p === 'preterm' && datum.m === 'is'"}], "mark": {"type": "bar", "fill": "white", "strokeWidth": 1.6},
         "encoding": {"x": {"field": "t", "type": "nominal", "title": null}, "y": {"field": "md", "type": "quantitative"}, "y2": {"field": "md"}, "stroke": {"field": "p", "type": "nominal", "legend": null}}},
        {"data": {"name": "br"}, "transform": [{"filter": "datum.p === 'preterm' && datum.m === 'is'"}], "mark": {"type": "rule", "color": "#555", "strokeWidth": 0.8},
         "encoding": {"x": {"field": "x1", "type": "nominal", "title": null}, "x2": {"field": "x2"}, "y": {"field": "y", "type": "quantitative"}}},
        {"data": {"name": "br"}, "transform": [{"filter": "datum.p === 'preterm' && datum.m === 'is'"}, {"fold": ["x1","x2"], "as": ["k","xe"]}], "mark": {"type": "rule", "color": "#555", "strokeWidth": 0.8},
         "encoding": {"x": {"field": "xe", "type": "nominal", "title": null}, "y": {"field": "y", "type": "quantitative"}, "y2": {"field": "tip"}}},
        {"data": {"name": "br"}, "transform": [{"filter": "datum.p === 'preterm' && datum.m === 'is' && datum.span === 1"}], "mark": {"type": "text", "fontSize": 8.5, "color": "#333", "baseline": "bottom", "dy": -1, "dx": 21.5},
         "encoding": {"x": {"field": "x1", "type": "nominal", "title": null}, "y": {"field": "y", "type": "quantitative"}, "text": {"field": "lab", "type": "nominal"}}},
        {"data": {"name": "br"}, "transform": [{"filter": "datum.p === 'preterm' && datum.m === 'is' && datum.span === 2"}], "mark": {"type": "text", "fontSize": 8.5, "color": "#333", "baseline": "bottom", "dy": -1},
         "encoding": {"x": {"field": "mid", "type": "nominal", "title": null}, "y": {"field": "y", "type": "quantitative"}, "text": {"field": "lab", "type": "nominal"}}},
        {"data": {"name": "kw"}, "transform": [{"filter": "datum.p === 'preterm' && datum.m === 'is'"}], "mark": {"type": "text", "fontSize": 8.2, "color": "#333", "align": "left", "dx": -17},
         "encoding": {"x": {"field": "t", "type": "nominal", "title": null}, "y": {"field": "y", "type": "quantitative"}, "text": {"field": "lab", "type": "nominal"}}}
        ]},
        {"data": {"name": "s"}, "transform": [{"filter": "datum.p === 'preterm'"}, {"window": [{"op": "row_number", "as": "rn"}], "groupby": ["t"]}, {"calculate": "indexof(['1st_tri','2nd_tri','3rd_tri'], datum.t) + 1 + 0.11 * (((datum.rn * 0.618034) % 1) * 2 - 1)", "as": "xj"}],
         "mark": {"type": "circle", "size": 14, "opacity": 1},
         "encoding": {"x": {"field": "xj", "type": "quantitative", "scale": {"domain": [0.4, 3.6], "nice": false, "zero": false}, "axis": null}, "y": {"field": "is", "type": "quantitative"}, "color": {"field": "p", "type": "nominal", "scale": {"domain": ["term","preterm"], "range": ["#3B8CC7","#D9534A"]}, "legend": null}}}
       ]}
      ]}
     ]},
    {"spacing": 2,
     "title": {"text": "Pregnancy", "orient": "bottom", "anchor": "middle", "frame": "bounds", "fontSize": 9.5, "fontWeight": "bold", "offset": 0, "dx": 13},
     "hconcat": [
      {"spacing": 0, "vconcat": [
       {"width": 87, "height": 15, "data": {"values": [{"s": "1st_tri"}]}, "mark": {"type": "text", "fontSize": 9, "fontWeight": "bold", "color": "#111"}, "encoding": {"text": {"field": "s", "type": "nominal"}}, "view": {"fill": "#f2f2f2", "stroke": "#444", "strokeWidth": 0.8}},
       {"width": 87, "height": 172, "resolve": {"scale": {"x": "independent"}}, "layer": [
        {"layer": [
        {"data": {"name": "ss"}, "transform": [{"filter": "datum.t === '1st_tri' && datum.m === 'is'"}], "mark": {"type": "rule", "strokeWidth": 1},
         "encoding": {"x": {"field": "p", "type": "nominal", "title": null, "scale": {"domain": ["term","preterm"], "paddingInner": 0.25, "paddingOuter": 0.225}, "axis": {"labelAngle": 0}},
          "y": {"field": "lo", "type": "quantitative", "title": "Inverse Simpson Index", "scale": {"domain": [-0.8, 15.85], "nice": false, "zero": false}, "axis": {"values": [0,5,10,15], "format": "d"}},
          "y2": {"field": "hi"},
          "stroke": {"field": "p", "type": "nominal", "scale": {"domain": ["term","preterm"], "range": ["#78B4DF","#EE8F87"]}, "legend": null}}},
        {"data": {"name": "ss"}, "transform": [{"filter": "datum.t === '1st_tri' && datum.m === 'is'"}], "mark": {"type": "bar", "fill": "white", "strokeWidth": 1},
         "encoding": {"x": {"field": "p", "type": "nominal", "title": null}, "y": {"field": "q1", "type": "quantitative"}, "y2": {"field": "q3"}, "stroke": {"field": "p", "type": "nominal", "legend": null}}},
        {"data": {"name": "ss"}, "transform": [{"filter": "datum.t === '1st_tri' && datum.m === 'is'"}], "mark": {"type": "bar", "fill": "white", "strokeWidth": 1.6},
         "encoding": {"x": {"field": "p", "type": "nominal", "title": null}, "y": {"field": "md", "type": "quantitative"}, "y2": {"field": "md"}, "stroke": {"field": "p", "type": "nominal", "legend": null}}},
        {"data": {"name": "wx"}, "transform": [{"filter": "datum.t === '1st_tri' && datum.m === 'is'"}], "mark": {"type": "text", "fontSize": 8.2, "color": "#333"},
         "encoding": {"y": {"field": "y", "type": "quantitative"}, "text": {"field": "lab", "type": "nominal"}}}
        ]},
        {"data": {"name": "s"}, "transform": [{"filter": "datum.t === '1st_tri'"}, {"window": [{"op": "row_number", "as": "rn"}], "groupby": ["p"]}, {"calculate": "indexof(['term','preterm'], datum.p) + 1 + 0.17 * (((datum.rn * 0.618034) % 1) * 2 - 1)", "as": "xj"}],
         "mark": {"type": "circle", "size": 14, "opacity": 1},
         "encoding": {"x": {"field": "xj", "type": "quantitative", "scale": {"domain": [0.4, 2.6], "nice": false, "zero": false}, "axis": null}, "y": {"field": "is", "type": "quantitative"}, "color": {"field": "p", "type": "nominal", "scale": {"domain": ["term","preterm"], "range": ["#3B8CC7","#D9534A"]}, "legend": null}}}
       ]}
      ]},
      {"spacing": 0, "vconcat": [
       {"width": 88, "height": 15, "data": {"values": [{"s": "2nd_tri"}]}, "mark": {"type": "text", "fontSize": 9, "fontWeight": "bold", "color": "#111"}, "encoding": {"text": {"field": "s", "type": "nominal"}}, "view": {"fill": "#f2f2f2", "stroke": "#444", "strokeWidth": 0.8}},
       {"width": 88, "height": 172, "resolve": {"scale": {"x": "independent"}}, "layer": [
        {"layer": [
        {"data": {"name": "ss"}, "transform": [{"filter": "datum.t === '2nd_tri' && datum.m === 'is'"}], "mark": {"type": "rule", "strokeWidth": 1},
         "encoding": {"x": {"field": "p", "type": "nominal", "title": null, "scale": {"domain": ["term","preterm"], "paddingInner": 0.25, "paddingOuter": 0.225}, "axis": {"labelAngle": 0}},
          "y": {"field": "lo", "type": "quantitative", "title": null, "scale": {"domain": [-0.8, 15.85], "nice": false, "zero": false}, "axis": {"values": [0,5,10,15], "format": "d"}},
          "y2": {"field": "hi"},
          "stroke": {"field": "p", "type": "nominal", "scale": {"domain": ["term","preterm"], "range": ["#78B4DF","#EE8F87"]}, "legend": null}}},
        {"data": {"name": "ss"}, "transform": [{"filter": "datum.t === '2nd_tri' && datum.m === 'is'"}], "mark": {"type": "bar", "fill": "white", "strokeWidth": 1},
         "encoding": {"x": {"field": "p", "type": "nominal", "title": null}, "y": {"field": "q1", "type": "quantitative"}, "y2": {"field": "q3"}, "stroke": {"field": "p", "type": "nominal", "legend": null}}},
        {"data": {"name": "ss"}, "transform": [{"filter": "datum.t === '2nd_tri' && datum.m === 'is'"}], "mark": {"type": "bar", "fill": "white", "strokeWidth": 1.6},
         "encoding": {"x": {"field": "p", "type": "nominal", "title": null}, "y": {"field": "md", "type": "quantitative"}, "y2": {"field": "md"}, "stroke": {"field": "p", "type": "nominal", "legend": null}}},
        {"data": {"name": "wx"}, "transform": [{"filter": "datum.t === '2nd_tri' && datum.m === 'is'"}], "mark": {"type": "text", "fontSize": 8.2, "color": "#333"},
         "encoding": {"y": {"field": "y", "type": "quantitative"}, "text": {"field": "lab", "type": "nominal"}}}
        ]},
        {"data": {"name": "s"}, "transform": [{"filter": "datum.t === '2nd_tri'"}, {"window": [{"op": "row_number", "as": "rn"}], "groupby": ["p"]}, {"calculate": "indexof(['term','preterm'], datum.p) + 1 + 0.17 * (((datum.rn * 0.618034) % 1) * 2 - 1)", "as": "xj"}],
         "mark": {"type": "circle", "size": 14, "opacity": 1},
         "encoding": {"x": {"field": "xj", "type": "quantitative", "scale": {"domain": [0.4, 2.6], "nice": false, "zero": false}, "axis": null}, "y": {"field": "is", "type": "quantitative"}, "color": {"field": "p", "type": "nominal", "scale": {"domain": ["term","preterm"], "range": ["#3B8CC7","#D9534A"]}, "legend": null}}}
       ]}
      ]},
      {"spacing": 0, "vconcat": [
       {"width": 87, "height": 15, "data": {"values": [{"s": "3rd_tri"}]}, "mark": {"type": "text", "fontSize": 9, "fontWeight": "bold", "color": "#111"}, "encoding": {"text": {"field": "s", "type": "nominal"}}, "view": {"fill": "#f2f2f2", "stroke": "#444", "strokeWidth": 0.8}},
       {"width": 87, "height": 172, "resolve": {"scale": {"x": "independent"}}, "layer": [
        {"layer": [
        {"data": {"name": "ss"}, "transform": [{"filter": "datum.t === '3rd_tri' && datum.m === 'is'"}], "mark": {"type": "rule", "strokeWidth": 1},
         "encoding": {"x": {"field": "p", "type": "nominal", "title": null, "scale": {"domain": ["term","preterm"], "paddingInner": 0.25, "paddingOuter": 0.225}, "axis": {"labelAngle": 0}},
          "y": {"field": "lo", "type": "quantitative", "title": null, "scale": {"domain": [-0.8, 15.85], "nice": false, "zero": false}, "axis": {"values": [0,5,10,15], "format": "d"}},
          "y2": {"field": "hi"},
          "stroke": {"field": "p", "type": "nominal", "scale": {"domain": ["term","preterm"], "range": ["#78B4DF","#EE8F87"]}, "legend": null}}},
        {"data": {"name": "ss"}, "transform": [{"filter": "datum.t === '3rd_tri' && datum.m === 'is'"}], "mark": {"type": "bar", "fill": "white", "strokeWidth": 1},
         "encoding": {"x": {"field": "p", "type": "nominal", "title": null}, "y": {"field": "q1", "type": "quantitative"}, "y2": {"field": "q3"}, "stroke": {"field": "p", "type": "nominal", "legend": null}}},
        {"data": {"name": "ss"}, "transform": [{"filter": "datum.t === '3rd_tri' && datum.m === 'is'"}], "mark": {"type": "bar", "fill": "white", "strokeWidth": 1.6},
         "encoding": {"x": {"field": "p", "type": "nominal", "title": null}, "y": {"field": "md", "type": "quantitative"}, "y2": {"field": "md"}, "stroke": {"field": "p", "type": "nominal", "legend": null}}},
        {"data": {"name": "wx"}, "transform": [{"filter": "datum.t === '3rd_tri' && datum.m === 'is'"}], "mark": {"type": "text", "fontSize": 8.2, "color": "#333"},
         "encoding": {"y": {"field": "y", "type": "quantitative"}, "text": {"field": "lab", "type": "nominal"}}}
        ]},
        {"data": {"name": "s"}, "transform": [{"filter": "datum.t === '3rd_tri'"}, {"window": [{"op": "row_number", "as": "rn"}], "groupby": ["p"]}, {"calculate": "indexof(['term','preterm'], datum.p) + 1 + 0.17 * (((datum.rn * 0.618034) % 1) * 2 - 1)", "as": "xj"}],
         "mark": {"type": "circle", "size": 14, "opacity": 1},
         "encoding": {"x": {"field": "xj", "type": "quantitative", "scale": {"domain": [0.4, 2.6], "nice": false, "zero": false}, "axis": null}, "y": {"field": "is", "type": "quantitative"}, "color": {"field": "p", "type": "nominal", "scale": {"domain": ["term","preterm"], "range": ["#3B8CC7","#D9534A"]}, "legend": null}}}
       ]}
      ]}
     ]}
   ]}
 ]}
]
}
